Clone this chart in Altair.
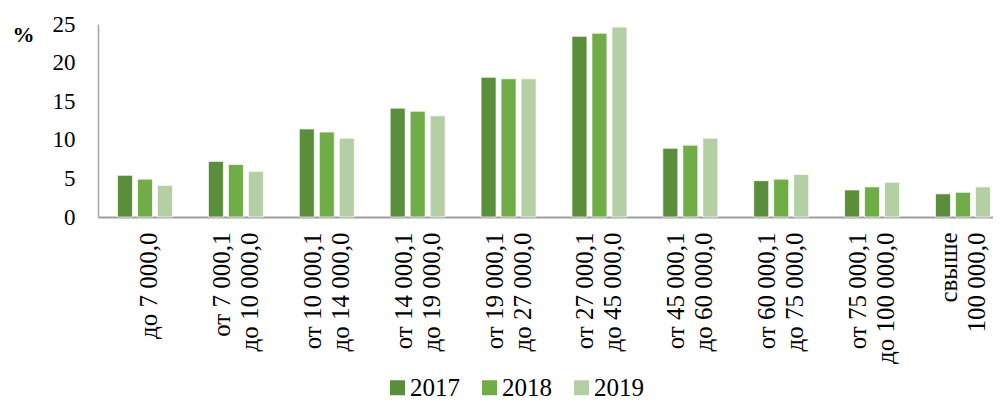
import altair as alt
import pandas as pd

categories = [
    "до 7 000,0",
    "от 7 000,1\nдо 10 000,0",
    "от 10 000,1\nдо 14 000,0",
    "от 14 000,1\nдо 19 000,0",
    "от 19 000,1\nдо 27 000,0",
    "от 27 000,1\nдо 45 000,0",
    "от 45 000,1\nдо 60 000,0",
    "от 60 000,1\nдо 75 000,0",
    "от 75 000,1\nдо 100 000,0",
    "свыше\n100 000,0",
]
years = ["2017", "2018", "2019"]
v2017 = [5.4, 7.2, 11.4, 14.1, 18.1, 23.4, 8.9, 4.7, 3.5, 3.0]
v2018 = [4.9, 6.8, 11.0, 13.7, 17.9, 23.8, 9.3, 4.9, 3.9, 3.2]
v2019 = [4.1, 5.9, 10.2, 13.1, 17.9, 24.6, 10.2, 5.5, 4.5, 3.9]
colors = ["#5B8E3A", "#70AD47", "#B4CFA4"]
y_ticks = [0, 5, 10, 15, 20, 25]

rows = []
for yr, vals in zip(years, [v2017, v2018, v2019]):
    for c, v in zip(categories, vals):
        rows.append({"cat": c, "year": yr, "value": v})
df = pd.DataFrame(rows)

FONT = "Liberation Serif"

chart = alt.Chart(df).mark_bar(
    stroke="white", strokeWidth=1, strokeOpacity=0.7
).encode(
    x=alt.X(
        "cat:N", sort=categories, title=None,
        scale=alt.Scale(range=[0, 912], paddingInner=0.395, paddingOuter=0.215),
        axis=alt.Axis(
            labelAngle=270, labelAlign="right", labelBaseline="middle",
            labelPadding=15, ticks=False, domainColor="#9E9E9E", domainWidth=2,
            labelFont=FONT, labelFontSize=25, labelColor="#000000",
            labelLineHeight=28, labelLimit=400,
            labelExpr="split(datum.label, '\\n')",
            labelOffset={"condition": {"test": "datum.value == 'до 7 000,0'", "value": 4},
                         "value": -14},
        ),
    ),
    xOffset=alt.XOffset("year:N", sort=years,
                        scale=alt.Scale(paddingInner=0.25, paddingOuter=0)),
    y=alt.Y(
        "value:Q",
        scale=alt.Scale(domain=[0, 25], nice=False),
        axis=alt.Axis(
            values=y_ticks, grid=False, ticks=False,
            domainColor="#A6A6A6", domainWidth=1.5,
            labelFont=FONT, labelFontSize=23, labelColor="#000000", labelPadding=23,
            title="%", titleAngle=0, titleX=-86, titleY=10,
            titleAlign="left", titleBaseline="middle",
            titleFont=FONT, titleFontSize=22, titleFontWeight="bold", titleColor="#000000",
        ),
    ),
    color=alt.Color(
        "year:N",
        scale=alt.Scale(domain=years, range=colors),
        legend=alt.Legend(
            orient="none", legendX=287, legendY=351, direction="horizontal",
            title=None, symbolType="square", symbolSize=225, symbolStrokeWidth=0,
            labelFont=FONT, labelFontSize=25, labelColor="#000000",
            labelOffset=0, columnPadding=17, padding=0,
        ),
    ),
).properties(
    width=895, height=193,
    autosize=alt.AutoSizeParams(type="none"),
    padding={"left": 90, "top": 16, "right": 0, "bottom": 183},
).configure_view(stroke=None)

chart.save("out.html", embed_options={"renderer": "svg", "actions": False})
